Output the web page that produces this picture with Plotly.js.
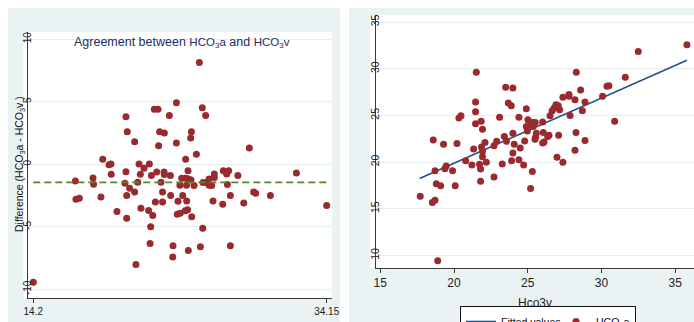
<!DOCTYPE html>
<html>
<head>
<meta charset="utf-8">
<script src="https://cdn.plot.ly/plotly-3.0.1.min.js"></script>
<style>html,body{margin:0;padding:0;background:#fff;}#chart{width:694px;height:322px;}</style>
</head>
<body>
<div id="chart"></div>
<script>
// ---- Left panel: Bland-Altman (mean of HCO3a & HCO3v vs difference) ----
const meanVals = [25.49,23.93,22.43,22.68,25.69,20.50,23.45,25.92,20.59,22.79,23.11,24.95,24.90,21.09,23.93,22.72,28.89,25.29,18.92,24.56,
  19.35,19.48,21.39,22.09,21.73,19.50,20.50,21.48,22.23,22.59,23.09,23.11,23.52,24.72,27.12,27.48,27.35,26.51,28.11,32.09,
  17.06,18.26,18.30,20.43,21.30,22.88,24.29,24.56,24.76,24.92,24.17,24.62,25.13,25.74,25.99,26.15,26.15,26.33,26.51,27.40,
  20.75,21.09,22.99,24.36,23.54,18.80,17.10,17.33,20.55,27.60,29.18,29.32,30.32,22.50,22.99,24.04,24.63,26.42,27.08,28.51,
  34.15,21.52,22.04,22.32,19.89,23.99,24.19,24.53,24.69,24.97,20.55,22.18,25.72,22.14,23.70,25.56,27.60,24.74,23.68,21.18,14.20];
const diffVals = [8.14,4.92,4.41,4.41,4.52,3.80,3.91,3.91,2.61,2.61,2.50,2.61,2.10,1.81,1.70,1.49,1.30,0.80,0.40,0.40,
  -0.03,0.03,0.03,0.03,-0.32,-0.80,-0.59,-0.80,-0.90,-0.61,-0.61,-0.82,-0.90,-0.51,-0.51,-0.51,-0.77,-0.77,-0.90,-0.69,
  -1.33,-1.09,-1.60,-1.52,-1.44,-1.44,-1.12,-1.12,-1.17,-1.25,-1.68,-1.68,-1.70,-1.46,-1.46,-1.17,-1.68,-1.70,-1.06,-1.62,
  -1.91,-2.21,-2.21,-2.50,-2.50,-2.61,-2.79,-2.71,-2.50,-2.50,-2.21,-2.31,-2.50,-3.01,-3.01,-2.95,-2.93,-2.93,-3.19,-3.09,
  -3.30,-3.51,-3.70,-4.10,-3.78,-3.99,-3.91,-3.72,-3.64,-4.20,-4.31,-5.00,-5.11,-6.33,-6.52,-6.60,-6.52,-6.89,-7.42,-8.01,-9.44];
const meanDiff = -1.44;
const meanSpan = [14.2, 34.15];
const leftXTicks = [14.2, 34.15];
const leftXTickText = ['14.2', '34.15'];
const leftYTicks = [-10, -5, 0, 5, 10];
const leftYTickText = ['-10', '-5', '0', '5', '10'];

// ---- Right panel: HCO3a vs Hco3v with fitted line ----
const hco3v = [35.79,32.49,31.61,21.51,28.29,30.37,30.50,30.07,23.50,23.99,28.58,27.79,27.79,27.38,28.20,28.88,21.46,23.68,23.88,26.91,
  27.07,26.79,27.16,26.65,28.70,24.90,21.46,26.51,27.87,20.47,20.33,23.09,24.40,25.01,21.84,21.46,25.35,25.51,26.01,25.21,
  24.90,25.37,21.93,24.97,30.89,23.99,26.05,28.27,27.09,26.44,26.35,23.41,25.53,25.58,25.49,18.59,22.89,23.56,28.88,24.79,
  22.10,20.20,19.29,24.08,26.01,26.10,22.71,21.86,21.33,24.49,28.20,21.93,23.99,21.93,26.98,20.79,23.90,24.40,27.38,22.19,
  21.73,21.21,23.27,24.72,19.47,19.38,21.80,18.71,19.90,25.31,21.80,22.71,18.80,19.09,20.08,25.19,17.71,18.53,18.71,18.89];
const hco3a = [32.56,31.84,29.08,29.62,29.62,28.11,28.18,27.04,28.01,27.93,27.72,27.25,27.04,26.93,26.68,26.43,26.43,26.32,26.03,26.14,
  26.03,25.78,25.60,25.49,25.49,25.71,25.38,24.95,24.99,24.96,24.71,24.81,24.81,24.53,24.38,24.10,24.24,24.24,24.28,24.02,
  23.81,23.81,23.52,23.34,24.38,23.09,23.16,23.16,22.88,22.88,22.73,22.73,22.66,23.09,22.45,22.37,22.23,22.23,22.30,22.27,
  22.09,21.98,21.91,21.91,22.05,22.16,21.76,21.62,21.41,21.51,21.26,21.16,20.98,20.58,20.51,20.15,20.15,20.26,19.97,19.97,
  19.76,19.68,19.79,19.68,19.58,19.29,19.25,19.07,19.07,19.00,17.96,18.39,17.68,17.46,17.46,17.17,16.35,15.67,15.92,9.43];
const fitX = [17.67, 35.79];
const fitY = [18.25, 30.91];
const rightXTicks = [15, 20, 25, 30, 35];
const rightYTicks = [10, 15, 20, 25, 30, 35];

const W = 694, H = 322;
const px = v => v / W;          // horizontal pixel -> paper
const py = v => 1 - v / H;      // vertical pixel (from top) -> paper

const REG = '"Liberation Sans", Arial, sans-serif';
const RED = '#9a2a2e';
const BLUE = '#24528c';
const GREEN = '#5a842f';
const GRID = '#e4edf0';
const AX = '#3a3a3a';
const PANEL = '#eaf2f3';

const traces = [
  { type: 'scatter', mode: 'markers', x: meanVals, y: diffVals, xaxis: 'x', yaxis: 'y',
    marker: { color: RED, size: 7 }, showlegend: false },
  { type: 'scatter', mode: 'lines', x: meanSpan, y: [meanDiff, meanDiff], xaxis: 'x', yaxis: 'y',
    line: { color: GREEN, width: 1.8, dash: '7px,4px' }, showlegend: false },
  { type: 'scatter', mode: 'lines', name: 'Fitted values', x: fitX, y: fitY, xaxis: 'x2', yaxis: 'y2',
    line: { color: BLUE, width: 1.6 }, legendwidth: 50 },
  { type: 'scatter', mode: 'markers', name: 'HCO<sub>3</sub>a', x: hco3v, y: hco3a, xaxis: 'x2', yaxis: 'y2',
    marker: { color: RED, size: 7 } }
];

const layout = {
  width: W, height: H,
  margin: { l: 0, r: 0, t: 0, b: 0, autoexpand: false },
  paper_bgcolor: '#ffffff',
  plot_bgcolor: 'rgba(0,0,0,0)',
  showlegend: false,
  font: { family: REG, color: '#222' },
  shapes: [
    { type: 'rect', xref: 'paper', yref: 'paper', x0: px(8), x1: px(340), y0: 0, y1: py(8),
      fillcolor: PANEL, line: { width: 0 }, layer: 'below' },
    { type: 'rect', xref: 'paper', yref: 'paper', x0: px(349), x1: 1, y0: 0, y1: py(8),
      fillcolor: PANEL, line: { width: 0 }, layer: 'below' },
    { type: 'rect', xref: 'paper', yref: 'paper', x0: px(23.5), x1: px(332), y0: py(297.7), y1: py(32),
      fillcolor: '#ffffff', line: { width: 0 }, layer: 'below' },
    { type: 'rect', xref: 'paper', yref: 'paper', x0: px(370), x1: 1, y0: py(267.7), y1: py(15),
      fillcolor: '#ffffff', line: { width: 0 }, layer: 'below' }
  ],
  xaxis: {
    domain: [px(28), px(332)], range: [13.84, 34.51], anchor: 'y',
    tickmode: 'array', tickvals: leftXTicks, ticktext: leftXTickText,
    ticks: 'outside', ticklen: 4, tickcolor: AX, showline: true, linecolor: AX, linewidth: 1,
    showgrid: false, zeroline: false, tickfont: { family: REG, size: 10, color: '#222' }
  },
  yaxis: {
    domain: [py(297.7), py(32)], range: [-10.67, 10.58], anchor: 'x',
    tickmode: 'array', tickvals: leftYTicks, ticktext: leftYTickText, tickangle: -90,
    ticks: '', showline: true, linecolor: AX, linewidth: 1, ticklabelstandoff: -8,
    showgrid: true, gridcolor: GRID, gridwidth: 1, zeroline: false,
    tickfont: { family: REG, size: 10, color: '#222' }
  },
  xaxis2: {
    domain: [px(376), 1], range: [14.71, 36.27], anchor: 'y2',
    tickmode: 'array', tickvals: rightXTicks,
    ticks: 'outside', ticklen: 4, tickcolor: AX, showline: true, linecolor: AX, linewidth: 1,
    showgrid: false, zeroline: false, tickfont: { family: REG, size: 12, color: '#222' },
    title: { text: 'Hco3v', standoff: 9, font: { family: REG, size: 12, color: '#222' } }
  },
  yaxis2: {
    domain: [py(267.7), py(15)], range: [8.69, 35.75], anchor: 'x2',
    tickmode: 'array', tickvals: rightYTicks, tickangle: -90,
    ticks: '', showline: true, linecolor: AX, linewidth: 1, ticklabelstandoff: -8,
    showgrid: true, gridcolor: GRID, gridwidth: 1, zeroline: false,
    tickfont: { family: REG, size: 10.5, color: '#222' }
  },
  annotations: [
    { xref: 'paper', yref: 'paper', x: px(182), y: py(42), xanchor: 'center', yanchor: 'middle', showarrow: false,
      text: 'Agreement between <span style="font-size:11.5px">HCO<sub>3</sub>a</span> and <span style="font-size:11.5px">HCO<sub>3</sub>v</span>',
      font: { family: REG, size: 12.5, color: '#1d2b63' } },
    { xref: 'paper', yref: 'paper', x: px(20), y: py(164), xanchor: 'center', yanchor: 'middle', showarrow: false,
      textangle: -90, text: 'Difference (HCO<sub>3</sub>a - HCO<sub>3</sub>v )',
      font: { family: REG, size: 10.5, color: '#111' } }
  ],
  legend: {
    orientation: 'h', x: px(460), y: py(306), xanchor: 'left', yanchor: 'top',
    bgcolor: '#ffffff', bordercolor: '#111', borderwidth: 1,
    font: { family: REG, size: 10.5, color: '#111' }, traceorder: 'normal'
  }
};

const gd = document.getElementById('chart');
Plotly.newPlot(gd, traces, layout, { staticPlot: true, displayModeBar: false })
  .then(() => Plotly.relayout(gd, { showlegend: true }));
</script>
</body>
</html>
